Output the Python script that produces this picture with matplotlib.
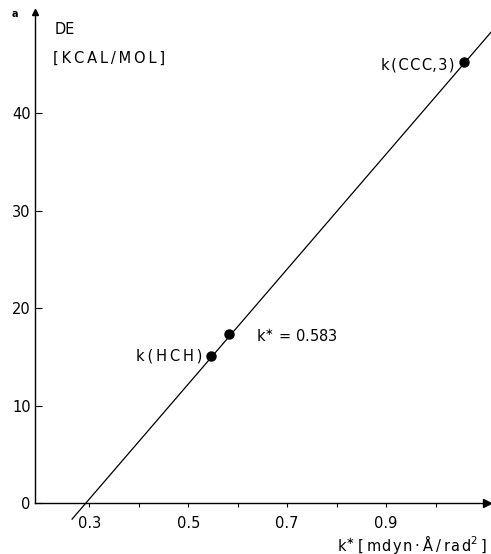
import matplotlib
matplotlib.use("Agg")
import matplotlib.pyplot as plt
import numpy as np

# data
point_labels = ["k\u2009(\u2009H\u2009C\u2009H\u2009)", "k$^{\\ast}$ = 0.583", "k\u200a(\u200aC\u200aC\u200aC,\u200a3\u200a)"]
point_x = [0.545, 0.583, 1.058]
point_y = [15.1, 17.3, 45.3]
fit_x = [0.265, 1.12]
fit_slope = 59.0
fit_x0 = 0.293
fit_y = [fit_slope * (x - fit_x0) for x in fit_x]
xticks = [0.3, 0.4, 0.5, 0.6, 0.7, 0.8, 0.9, 1.0]
xticklabels = ["0.3", "", "0.5", "", "0.7", "", "0.9", ""]
yticks = [0, 10, 20, 30, 40]
yticklabels = ["0", "10", "20", "30", "40"]

plt.rcParams['font.family'] = ['DejaVu Sans']
fig = plt.figure(figsize=(4.91, 5.54), dpi=100)
ax = fig.add_axes([35/491, 1 - 503/554, (487 - 35)/491, (503 - 12)/554])

ax.set_xlim(0.19, 1.104)
ax.set_ylim(0, 50.4)

ax.plot(fit_x, fit_y, color='black', lw=0.9, clip_on=False)
ax.plot(point_x, point_y, 'o', color='black', ms=6.5)

ax.spines['top'].set_visible(False)
ax.spines['right'].set_visible(False)
for s in ['left', 'bottom']:
    ax.spines[s].set_linewidth(1.0)

ax.plot(1, 0, '>', color='black', ms=6, transform=ax.transAxes, clip_on=False)
ax.plot(0, 1, '^', color='black', ms=5, transform=ax.transAxes, clip_on=False)

ax.set_xticks(xticks)
ax.set_xticklabels(xticklabels)
ax.set_yticks(yticks)
ax.set_yticklabels(yticklabels)
ax.tick_params(axis='x', direction='out', length=3, width=0.8, labelsize=10.5, pad=6)
ax.tick_params(axis='y', direction='in', length=5, width=0.8, labelsize=10.5, pad=3)

fs = 10.5
ax.text(point_x[0] - 0.017, point_y[0], point_labels[0], ha='right', va='center', fontsize=fs)
ax.text(point_x[1] + 0.053, point_y[1] - 0.2, point_labels[1], ha='left', va='center', fontsize=fs)
ax.text(point_x[2] - 0.02, point_y[2] - 0.3, point_labels[2], ha='right', va='center', fontsize=fs)

fig.text(55/491, 1 - 30/554, "DE", ha='left', va='center', fontsize=fs)
fig.text(53/491, 1 - 58/554, "[\u2009K\u2009C\u2009A\u2009L\u2009/\u2009M\u2009O\u2009L\u2009]", ha='left', va='center', fontsize=fs)
fig.text(15/491, 1 - 14/554, "a", ha='center', va='center', fontsize=7, fontweight='bold')
fig.text(487/491, 1 - 544/554, "k$^{\\ast}$\u2009[\u2009m\u200ad\u200ay\u200an\u2009·\u2009Å\u2009/\u2009r\u200aa\u200ad$^{2}$\u2009]", ha='right', va='center', fontsize=fs)

fig.savefig("out.png", dpi=100)
